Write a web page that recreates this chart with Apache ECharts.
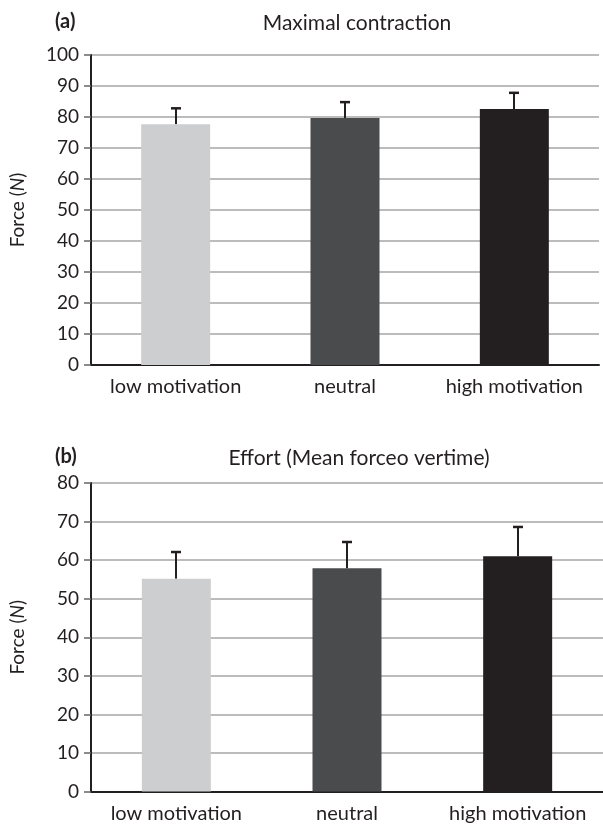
<!DOCTYPE html>
<html>
<head>
<meta charset="utf-8">
<script src="https://cdn.jsdelivr.net/npm/echarts@6/dist/echarts.min.js"></script>
<style>html,body{margin:0;padding:0;background:#fff}#c{width:603px;height:831px}</style>
</head>
<body>
<div id="c"></div>
<script>
var categories = ['low motivation', 'neutral', 'high motivation'];
var maxValues = [77.7, 79.7, 82.6];
var maxErrTop = [82.8, 84.8, 87.8];
var effortValues = [55.2, 57.9, 61.0];
var effortErrTop = [62.1, 64.7, 68.6];
var ticksA = {min: 0, max: 100, interval: 10};
var ticksB = {min: 0, max: 80, interval: 10};
var barColors = ['#cdcecf', '#4a4b4d', '#231f20'];

var FONT = 'Lato';
var TXT = '#231f20';

function errSeries(xi, vals, tops) {
  return {
    type: 'custom', xAxisIndex: xi, yAxisIndex: xi, z: 1,
    data: vals.map(function (v, i) { return [i, v, tops[i]]; }),
    renderItem: function (params, api) {
      var p0 = api.coord([api.value(0), api.value(1)]);
      var p1 = api.coord([api.value(0), api.value(2)]);
      var x = Math.round(p0[0]);
      return {
        type: 'group',
        children: [
          {type: 'line', shape: {x1: x, y1: p0[1], x2: x, y2: p1[1]}, style: {stroke: TXT, lineWidth: 2}},
          {type: 'line', shape: {x1: x - 5, y1: p1[1], x2: x + 5, y2: p1[1]}, style: {stroke: TXT, lineWidth: 2.5}}
        ]
      };
    }
  };
}

function yAx(gi, t) {
  return {
    type: 'value', gridIndex: gi, min: t.min, max: t.max, interval: t.interval,
    name: 'Force ({i|N})', nameLocation: 'middle', nameGap: 64, nameRotate: 90,
    nameTextStyle: {fontFamily: FONT, fontSize: 19, color: TXT,
      rich: {i: {fontFamily: FONT, fontSize: 19, fontStyle: 'italic', color: TXT}}},
    axisLine: {show: true, lineStyle: {color: TXT, width: 2}},
    axisTick: {show: true, length: 7, lineStyle: {color: '#666', width: 1.5}},
    axisLabel: {fontFamily: FONT, fontSize: 19, color: TXT, margin: 12},
    splitLine: {show: true, lineStyle: {color: '#a6a6a6', width: 1.5}}
  };
}
function xAx(gi) {
  return {
    type: 'category', gridIndex: gi, data: categories,
    axisLine: {show: true, lineStyle: {color: TXT, width: 2}},
    axisTick: {show: false},
    axisLabel: {interval: 0, hideOverlap: false, fontFamily: FONT, fontSize: 20, color: TXT, margin: 12}
  };
}
function barSeries(xi, vals) {
  return {
    type: 'bar', xAxisIndex: xi, yAxisIndex: xi, barWidth: 69, z: 2,
    data: vals.map(function (v, i) { return {value: v, itemStyle: {color: barColors[i]}}; })
  };
}

var chart = echarts.init(document.getElementById('c'), null, {renderer: 'canvas'});
chart.setOption({
  animation: false,
  backgroundColor: '#fff',
  title: [
    {text: '(a)', left: 50, top: 7, textStyle: {fontFamily: FONT, fontSize: 20, fontWeight: 'bold', color: TXT}},
    {text: 'Maximal contraction', left: 352, top: 8, textAlign: 'center', textStyle: {fontFamily: FONT, fontSize: 21, fontWeight: 'normal', color: TXT}},
    {text: '(b)', left: 50, top: 442, textStyle: {fontFamily: FONT, fontSize: 20, fontWeight: 'bold', color: TXT}},
    {text: 'Effort (Mean forceo vertime)', left: 354, top: 443, textAlign: 'center', textStyle: {fontFamily: FONT, fontSize: 21, fontWeight: 'normal', color: TXT}}
  ],
  grid: [
    {left: 88, right: 4, top: 55, bottom: 466},
    {left: 89, right: -8, top: 483, bottom: 39.5}
  ],
  xAxis: [xAx(0), xAx(1)],
  yAxis: [yAx(0, ticksA), yAx(1, ticksB)],
  series: [
    barSeries(0, maxValues), errSeries(0, maxValues, maxErrTop),
    barSeries(1, effortValues), errSeries(1, effortValues, effortErrTop)
  ]
});
</script>
</body>
</html>
